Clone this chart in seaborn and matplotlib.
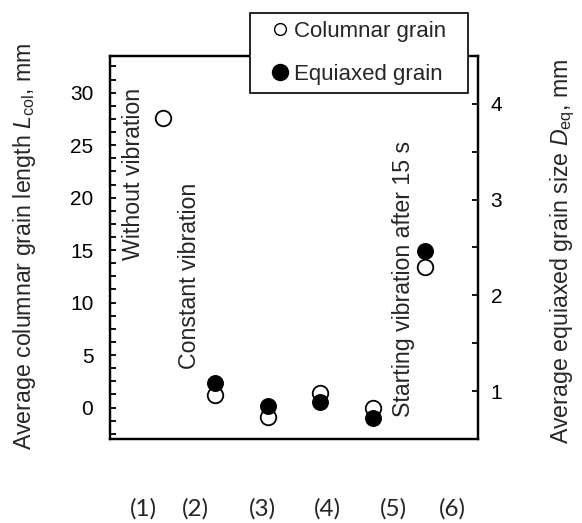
import matplotlib
matplotlib.use("Agg")
import matplotlib.pyplot as plt
from matplotlib.lines import Line2D
from matplotlib.ticker import MultipleLocator
import seaborn as sns

# data
cases = [1, 2, 3, 4, 5, 6]
case_labels = ["(1)", "(2)", "(3)", "(4)", "(5)", "(6)"]
columnar_len = [27.6, 1.2, -0.9, 1.4, 0.0, 13.4]      # mm, left axis
equiaxed_cases = [2, 3, 4, 5, 6]
equiaxed_size = [1.09, 0.84, 0.89, 0.72, 2.46]        # mm, right axis

sns.set_style("white")
plt.rcParams["font.family"] = ["Liberation Sans", "DejaVu Sans"]
plt.rcParams["mathtext.fontset"] = "custom"
plt.rcParams["mathtext.rm"] = "Liberation Sans"
plt.rcParams["mathtext.it"] = "Liberation Sans:italic"

FS = 16.7
W, H = 582, 523
fig = plt.figure(figsize=(W / 100, H / 100), dpi=100)
ax = fig.add_axes([110 / W, 1 - 439 / H, 368 / W, 383 / H])
ax2 = ax.twinx()

sns.scatterplot(x=cases, y=columnar_len, ax=ax, s=125, facecolor="white",
                edgecolor="black", linewidth=1.3, zorder=3)
sns.scatterplot(x=equiaxed_cases, y=equiaxed_size, ax=ax2, s=125, color="black",
                edgecolor="black", linewidth=1.0, zorder=3)

ax.set_xlim(0, 7)
ax.set_ylim(-3, 33.5)
ax2.set_ylim(0.5, 4.5)
ax.set_xticks([])

ax.yaxis.set_major_locator(MultipleLocator(5))
ax.yaxis.set_minor_locator(MultipleLocator(1.25))
ax2.yaxis.set_major_locator(MultipleLocator(1))
ax2.yaxis.set_minor_locator(MultipleLocator(0.5))

for a in (ax, ax2):
    for sp in a.spines.values():
        sp.set_linewidth(1.6)
        sp.set_color("black")
    a.tick_params(axis="y", which="both", direction="in", length=4.2, width=1.3,
                  labelsize=15, colors="black")
ax.tick_params(axis="y", which="both", pad=12, left=True, right=False)
ax2.tick_params(axis="y", which="both", pad=9, right=True, left=False)

ax.set_ylabel(r"Average columnar grain length $\mathit{L}_{\mathrm{col}}$, mm", fontsize=FS)
ax.yaxis.set_label_coords(-0.196, 0.504)
ax2.set_ylabel(r"Average equiaxed grain size $\mathit{D}_{\mathrm{eq}}$, mm",
               fontsize=FS, rotation=90)
ax2.yaxis.set_label_coords(1.193, 0.49)

ax.text(0.44, 30.5, "Without vibration", rotation=90, ha="center", va="top", fontsize=FS)
ax.text(1.52, 3.7, "Constant vibration", rotation=90, ha="center", va="bottom", fontsize=FS)
ax.text(5.58, -0.86, "Starting vibration after 15 s", rotation=90, ha="center",
        va="bottom", fontsize=FS)

# case numbers under the plot
label_px = [143, 195, 262, 327, 393, 452]
for lab, px in zip(case_labels, label_px):
    fig.text(px / W, 1 - 509 / H, lab, ha="center", va="center", fontsize=17.5,
             family=["Lato", "DejaVu Sans"])

handles = [
    Line2D([], [], ls="", marker="o", ms=8.5, mfc="white", mec="black", mew=1.0),
    Line2D([], [], ls="", marker="o", ms=11.5, mfc="black", mec="black"),
]
leg = fig.legend(handles, ["Columnar grain", "Equiaxed grain"], loc="upper left",
                 bbox_to_anchor=(250 / W, 1 - 90 / H, 218 / W, 77 / H), mode="expand",
                 borderaxespad=0, fontsize=16, frameon=True, fancybox=False,
                 framealpha=1, edgecolor="black", handlelength=2.0,
                 handletextpad=-0.4, borderpad=0.37, labelspacing=0.97)
leg.get_frame().set_linewidth(1.2)

fig.savefig("out.png", dpi=100)
